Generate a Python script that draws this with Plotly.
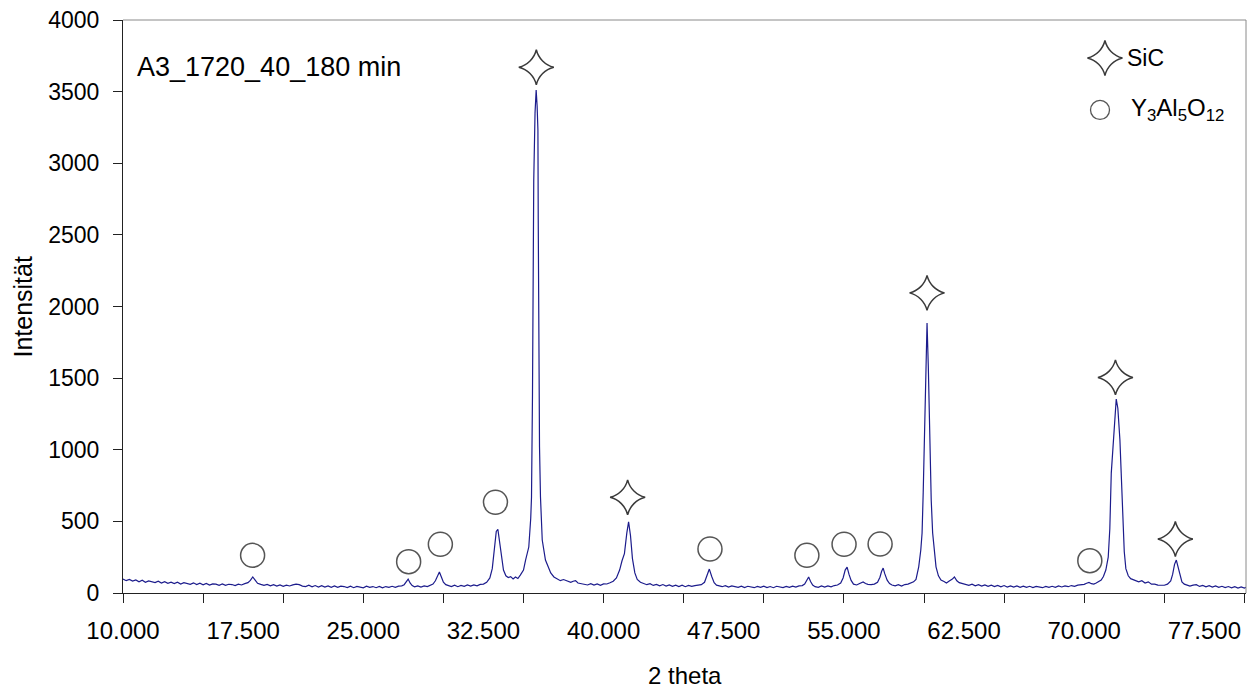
import plotly.graph_objects as go

# Diffractogram of sample A3_1720_40_180 min (2 theta in degrees, intensity in counts)
two_theta = [
    10.0, 10.2, 10.4, 10.6, 10.8, 11.0, 11.2, 11.4, 11.6, 11.8, 12.0, 12.2, 12.4, 12.6, 12.8,
    13.0, 13.2, 13.4, 13.6, 13.8, 14.0, 14.2, 14.4, 14.6, 14.8, 15.0, 15.2, 15.4, 15.6, 15.8,
    16.0, 16.2, 16.4, 16.6, 16.8, 17.0, 17.2, 17.4, 17.6,
    17.8, 17.95, 18.1, 18.25, 18.4, 18.6,
    18.8, 19.0, 19.2, 19.4, 19.6, 19.8, 20.0, 20.2, 20.4, 20.6, 20.8, 21.0, 21.2, 21.4, 21.6,
    21.8, 22.0, 22.2, 22.4, 22.6, 22.8, 23.0, 23.2, 23.4, 23.6, 23.8, 24.0, 24.2, 24.4, 24.6,
    24.8, 25.0, 25.2, 25.4, 25.6, 25.8, 26.0, 26.2, 26.4, 26.6, 26.8, 27.0, 27.2, 27.4,
    27.55, 27.68, 27.8, 27.92, 28.05,
    28.2, 28.4, 28.6, 28.8, 29.0, 29.2, 29.35,
    29.5, 29.62, 29.75, 29.88, 30.0, 30.15,
    30.3, 30.5, 30.7, 30.9, 31.1, 31.3, 31.5, 31.7, 31.9, 32.1, 32.3, 32.5, 32.7,
    32.9, 33.05, 33.2, 33.3, 33.4, 33.5, 33.6, 33.75, 33.9, 34.05,
    34.2, 34.35, 34.5, 34.65, 34.8, 35.0, 35.13, 35.33, 35.45, 35.5, 35.56, 35.58, 35.64, 35.72,
    35.79, 35.85, 35.9, 35.92, 35.96, 36.0, 36.06, 36.17, 36.37, 36.48, 36.58, 36.7, 36.9, 37.1,
    37.3, 37.5, 37.75,
    37.95, 38.1, 38.25, 38.4, 38.6, 38.8, 39.0, 39.2, 39.4, 39.6, 39.8, 40.0, 40.2, 40.4, 40.6,
    40.8, 41.0, 41.15, 41.3, 41.45, 41.56, 41.68, 41.8, 41.95, 42.1, 42.3,
    42.5, 42.7, 42.9, 43.1, 43.3, 43.5, 43.7, 43.9, 44.1, 44.3, 44.5, 44.7, 44.9, 45.1, 45.3,
    45.5, 45.7, 45.9, 46.1,
    46.3, 46.45, 46.6, 46.75, 46.9, 47.05,
    47.2, 47.4, 47.6, 47.8, 48.0, 48.2, 48.4, 48.6, 48.8, 49.0, 49.2, 49.4, 49.6, 49.8, 50.0,
    50.2, 50.4, 50.6, 50.8, 51.0, 51.2, 51.4, 51.6, 51.8, 52.0, 52.2, 52.4,
    52.55, 52.68, 52.8, 52.92, 53.05,
    53.2, 53.4, 53.6, 53.8, 54.0, 54.2, 54.4, 54.6,
    54.8, 54.95, 55.08, 55.2, 55.32, 55.45, 55.6,
    55.8, 55.95, 56.1, 56.2, 56.35, 56.5, 56.7, 56.9, 57.1,
    57.25, 57.35, 57.45, 57.55, 57.7, 57.85,
    58.0, 58.2, 58.4, 58.6, 58.8, 59.0,
    59.2, 59.35, 59.5, 59.67, 59.8, 59.88, 59.95, 60.02, 60.12, 60.19, 60.27, 60.35, 60.45,
    60.54, 60.65, 60.75, 60.9, 61.06, 61.25, 61.4, 61.6, 61.75, 61.9, 62.05, 62.2,
    62.4, 62.6, 62.8, 63.0, 63.2, 63.4, 63.6, 63.8, 64.0, 64.2, 64.4, 64.6, 64.8, 65.0, 65.2,
    65.4, 65.6, 65.8, 66.0, 66.2, 66.4, 66.6, 66.8, 67.0, 67.2, 67.4, 67.6, 67.8, 68.0, 68.2,
    68.4, 68.6, 68.8, 69.0, 69.2, 69.4, 69.6, 69.8, 70.0,
    70.15, 70.3, 70.45, 70.6, 70.75, 70.9, 71.06, 71.2, 71.35, 71.5, 71.6, 71.69, 71.81, 71.9,
    72.0, 72.1, 72.23, 72.31, 72.4, 72.5, 72.6, 72.75, 72.9, 73.05,
    73.2, 73.4, 73.6, 73.8, 74.0, 74.2, 74.4, 74.6, 74.8, 75.0, 75.2,
    75.4, 75.52, 75.64, 75.75, 75.86, 75.98, 76.1, 76.25,
    76.4, 76.6, 76.8, 77.0, 77.2, 77.4, 77.6, 77.8, 78.0, 78.2, 78.4, 78.6, 78.8, 79.0, 79.2,
    79.4, 79.6, 79.8, 80.0, 80.1,
]
intensity = [
    98, 86, 95, 83, 91, 78, 89, 75, 84, 80, 73, 83, 70, 79, 68,
    76, 66, 75, 63, 72, 69, 61, 71, 59, 68, 57, 67, 55, 64, 62,
    54, 63, 53, 61, 59, 52, 62, 56, 65,
    72, 88, 112, 90, 68, 60,
    53, 60, 50, 58, 48, 56, 47, 55, 49, 57, 62, 58, 48, 45, 54,
    43, 52, 42, 51, 41, 50, 40, 49, 39, 48, 45, 38, 48, 37, 46,
    43, 36, 47, 39, 45, 37, 46, 36, 45, 39, 47, 40, 48, 50,
    58, 75, 97, 70, 52,
    43, 50, 41, 49, 45, 53, 62,
    85, 118, 147, 110, 75, 58,
    50, 45, 55, 44, 53, 47, 56, 48, 57, 50, 60, 62, 75,
    105, 170, 320, 430, 445, 360, 250, 160, 120, 108,
    114, 98, 112, 101, 125, 160, 230, 321, 520, 670, 1368, 2066, 2883, 3350,
    3511, 3400, 3232, 2604, 1717, 1019, 670, 370, 230, 200, 181, 140, 112, 98,
    86, 94, 80,
    74, 82, 86, 70, 67, 60, 56, 65, 55, 63, 54, 64, 63, 72, 82,
    105, 160, 225, 275, 420, 496, 400, 240, 140, 95, 75,
    64, 58, 65, 53, 60, 50, 59, 48, 57, 47, 55, 45, 54, 44, 53,
    46, 52, 53, 58,
    75, 120, 167, 115, 72, 55,
    48, 44, 51, 41, 49, 42, 39, 48, 38, 47, 40, 37, 46, 39, 48,
    38, 45, 37, 47, 40, 38, 46, 39, 48, 41, 50, 52,
    62, 85, 112, 80, 55,
    44, 40, 49, 41, 50, 43, 52, 56,
    70, 105, 160, 181, 130, 88, 62,
    56, 65, 72, 77, 66, 60, 58, 62, 75,
    110, 150, 174, 135, 90, 66,
    56, 50, 58, 48, 59, 62,
    70, 78, 95, 183, 300, 419, 700, 1047, 1578, 1885, 1578, 1047, 650,
    419, 260, 183, 120, 91, 80, 70, 85, 95, 112, 85, 72,
    64, 56, 53, 62, 50, 58, 48, 56, 46, 55, 45, 53, 43, 52, 42,
    50, 41, 49, 40, 48, 39, 47, 38, 46, 40, 37, 46, 39, 47, 40,
    49, 42, 50, 44, 52, 46, 55, 56, 60,
    68, 74, 65, 62, 70, 80, 90, 115, 160, 250, 450, 837, 1068, 1250,
    1354, 1290, 1068, 837, 500, 290, 170, 120, 100, 92,
    86, 78, 86, 70, 78, 62, 62, 55, 54, 54, 62,
    85, 130, 200, 230, 180, 115, 78, 62,
    55, 48, 55, 58, 46, 53, 43, 51, 41, 49, 39, 47, 38, 45, 36,
    44, 35, 42, 34, 39,
]
assert len(two_theta) == len(intensity)

# Phase markers placed above the assigned reflections
sic_theta = [35.8, 41.5, 60.19, 71.95, 75.69]
sic_level = [3670, 668, 2095, 1505, 377]
yag_theta = [18.09, 27.83, 29.81, 33.25, 46.64, 52.69, 55.01, 57.26, 70.35]
yag_level = [263, 219, 340, 633, 307, 263, 340, 342, 226]

# Axis scale
x_min, x_max = 10.0, 80.1
label_ticks = [10.0, 17.5, 25.0, 32.5, 40.0, 47.5, 55.0, 62.5, 70.0, 77.5]
label_text = ["10.000", "17.500", "25.000", "32.500", "40.000",
              "47.500", "55.000", "62.500", "70.000", "77.500"]

FONT = "Liberation Sans, Arial, sans-serif"
STAR_COLOR = "#3a3a3a"
CIRCLE_COLOR = "#555555"

fig = go.Figure()

fig.add_trace(go.Scatter(
    x=two_theta, y=intensity, mode="lines",
    line=dict(color="#1c1c8c", width=1.2),
    showlegend=False, hoverinfo="skip",
))
fig.add_trace(go.Scatter(
    x=sic_theta, y=sic_level, mode="markers",
    marker=dict(symbol="star-diamond-open", size=25,
                line=dict(color=STAR_COLOR, width=1.5), color=STAR_COLOR),
    showlegend=False,
))
fig.add_trace(go.Scatter(
    x=yag_theta, y=yag_level, mode="markers",
    marker=dict(symbol="circle-open", size=24,
                line=dict(color=CIRCLE_COLOR, width=1.5), color=CIRCLE_COLOR),
    showlegend=False,
))

# The labelled 2-theta axis shares the data range; a transparent point keeps it drawn
fig.add_trace(go.Scatter(
    x=[x_min], y=[0], xaxis="x2", yaxis="y", mode="markers",
    marker=dict(opacity=0), showlegend=False, hoverinfo="skip",
))

# Key symbols drawn on a unit overlay axis
fig.add_trace(go.Scatter(
    x=[0.8744], y=[0.9337], xaxis="x3", yaxis="y3", mode="markers",
    marker=dict(symbol="star-diamond-open", size=25,
                line=dict(color=STAR_COLOR, width=1.5), color=STAR_COLOR),
    showlegend=False, hoverinfo="skip",
))
fig.add_trace(go.Scatter(
    x=[0.870], y=[0.843], xaxis="x3", yaxis="y3", mode="markers",
    marker=dict(symbol="circle-open", size=19,
                line=dict(color=CIRCLE_COLOR, width=1.3), color=CIRCLE_COLOR),
    showlegend=False, hoverinfo="skip",
))

axis_line = "#222222"

fig.update_layout(
    width=1254, height=688,
    margin=dict(l=123, r=8, t=20, b=95),
    paper_bgcolor="white", plot_bgcolor="white",
    font=dict(family=FONT, color="black", size=22),
    xaxis=dict(
        range=[x_min, x_max], showgrid=False, zeroline=False,
        showline=True, linecolor=axis_line, linewidth=1,
        tickmode="linear", tick0=10, dtick=5,
        ticks="outside", ticklen=9, tickcolor=axis_line,
        showticklabels=False,
    ),
    xaxis2=dict(
        range=[x_min, x_max], overlaying="x", anchor="y", side="bottom",
        showgrid=False, zeroline=False, showline=False,
        tickmode="array", tickvals=label_ticks, ticktext=label_text,
        ticks="", tickfont=dict(size=24, family=FONT),
        ticklabelstandoff=21,
    ),
    xaxis3=dict(range=[0, 1], overlaying="x", visible=False),
    yaxis=dict(
        range=[0, 4000], showgrid=False, zeroline=False,
        showline=True, linecolor=axis_line, linewidth=1,
        tickmode="linear", tick0=0, dtick=500,
        ticks="outside", ticklen=9, tickcolor=axis_line,
        tickfont=dict(size=23, family=FONT),
        ticklabelstandoff=9,
    ),
    yaxis3=dict(range=[0, 1], overlaying="y", visible=False, anchor="x3"),
    shapes=[
        dict(type="line", xref="paper", yref="paper", x0=0, x1=1, y0=1, y1=1,
             line=dict(color="#8a8a8a", width=1)),
        dict(type="line", xref="paper", yref="paper", x0=1, x1=1, y0=0, y1=1,
             line=dict(color="#8a8a8a", width=1)),
    ],
    annotations=[
        dict(text="A3_1720_40_180 min", xref="paper", yref="paper",
             x=0.0107, y=0.918, xanchor="left", yanchor="middle",
             showarrow=False, font=dict(size=27, family=FONT)),
        dict(text="SiC", xref="paper", yref="paper",
             x=0.892, y=0.934, xanchor="left", yanchor="middle",
             showarrow=False, font=dict(size=23, family=FONT)),
        dict(text="Y<sub>3</sub>Al<sub>5</sub>O<sub>12</sub>", xref="paper", yref="paper",
             x=0.896, y=0.843, xanchor="left", yanchor="middle",
             showarrow=False, font=dict(size=24, family=FONT)),
        dict(text="2 theta", xref="paper", yref="paper",
             x=0.5, y=-0.1435, xanchor="center", yanchor="middle",
             showarrow=False, font=dict(size=24, family=FONT)),
        dict(text="Intensität", xref="paper", yref="paper",
             x=-0.0899, y=0.5, xanchor="center", yanchor="middle", textangle=-90,
             showarrow=False, font=dict(size=25, family=FONT)),
    ],
)

fig.write_html("out.html")
